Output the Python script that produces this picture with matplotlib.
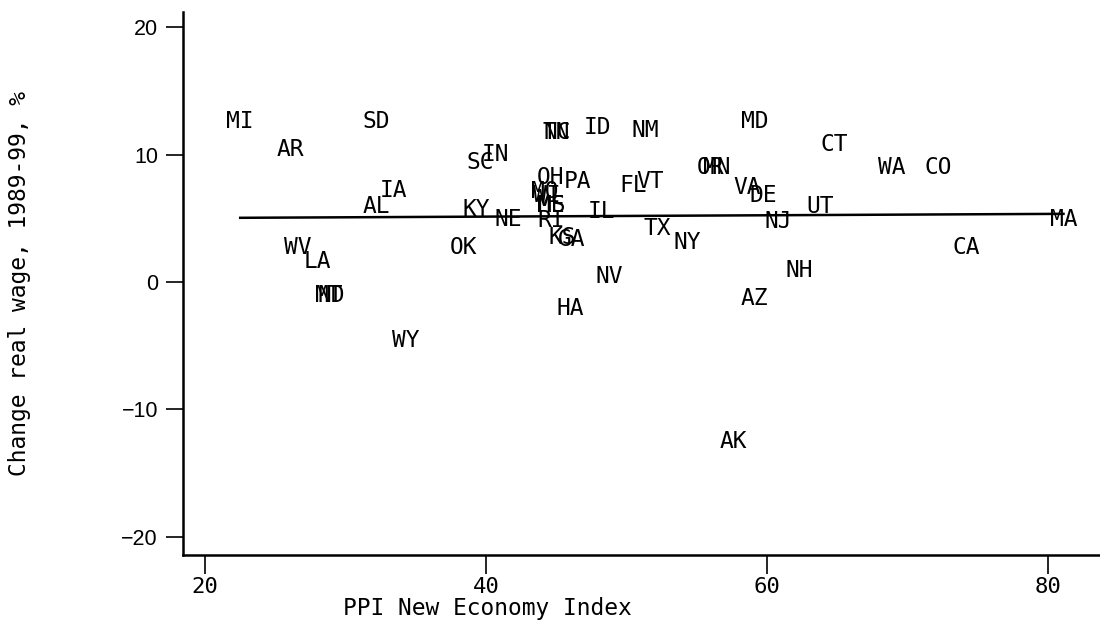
import numpy as np
import matplotlib.pyplot as plt

# state labels and their (index, wage change) positions
states = ["MI", "AR", "SD", "IA", "AL", "WV", "LA", "MT", "ND", "WY",
          "OK", "KY", "NE", "SC", "IN", "TN", "NC", "ID", "NM", "OH",
          "PA", "MO", "WI", "ME", "MS", "RI", "KS", "GA", "IL", "FL",
          "VT", "TX", "NY", "NV", "HA", "MD", "OR", "MN", "VA", "DE",
          "NJ", "UT", "CT", "WA", "CO", "NH", "AZ", "AK", "CA", "MA"]
ppi = [22.5, 26.1, 32.2, 33.4, 32.2, 26.6, 28.0, 28.8, 29.0, 34.3,
       38.4, 39.3, 41.6, 39.6, 40.7, 45.0, 45.1, 47.9, 51.3, 44.6,
       46.5, 44.2, 44.3, 44.6, 44.7, 44.6, 45.4, 46.1, 48.2, 50.5,
       51.7, 52.2, 54.3, 48.8, 46.0, 59.1, 56.0, 56.4, 58.6, 59.7,
       60.8, 63.8, 64.8, 68.9, 72.2, 62.3, 59.1, 57.6, 74.2, 81.1]
wage = [12.6, 10.4, 12.6, 7.2, 5.9, 2.7, 1.6, -1.1, -1.1, -4.6,
        2.7, 5.7, 4.9, 9.4, 10.0, 11.7, 11.7, 12.1, 11.9, 8.2,
        7.9, 7.1, 6.8, 6.0, 6.0, 4.8, 3.5, 3.3, 5.5, 7.6,
        7.9, 4.2, 3.1, 0.4, -2.1, 12.6, 9.0, 9.0, 7.4, 6.8,
        4.7, 5.9, 10.8, 9.0, 9.0, 0.9, -1.3, -12.5, 2.7, 4.9]

# fitted line: wage = fit_a + fit_b * ppi
fit_a = 4.91
fit_b = 0.0053

mono = "DejaVu Sans Mono"

fig = plt.figure(figsize=(11, 6.25), dpi=100)
ax = fig.add_axes([0.1664, 0.112, 0.8336, 0.869])

for s, x, y in zip(states, ppi, wage):
    ax.text(x, y, s, ha="center", va="center", family=mono, fontsize=16.5,
            color="black")

xs = np.array([min(ppi), max(ppi)])
ax.plot(xs, fit_a + fit_b * xs, color="black", lw=1.8)

ax.set_xlim(18.43, 83.7)
ax.set_ylim(-21.45, 21.2)
ax.set_xticks([20, 40, 60, 80])
ax.set_yticks([-20, -10, 0, 10, 20])
ax.set_yticklabels(["\u221220", "\u221210", "0", "10", "20"],
                   family="Liberation Sans", fontsize=15.5)
ax.set_xticklabels(["20", "40", "60", "80"], family=mono, fontsize=16)
ax.tick_params(axis="y", length=12, width=1.2, pad=6)
ax.tick_params(axis="x", length=14, width=1.2, pad=2)

for side in ["top", "right"]:
    ax.spines[side].set_visible(False)
for side in ["left", "bottom"]:
    ax.spines[side].set_linewidth(1.8)

ax.set_xlabel("PPI New Economy Index", family=mono, fontsize=16.5)
ax.xaxis.set_label_coords(0.332, -0.077)
ax.set_ylabel("Change real wage, 1989-99, %", family=mono, fontsize=16.5)
ax.yaxis.set_label_coords(-0.166, 0.5)

fig.savefig("out.png", dpi=100)
